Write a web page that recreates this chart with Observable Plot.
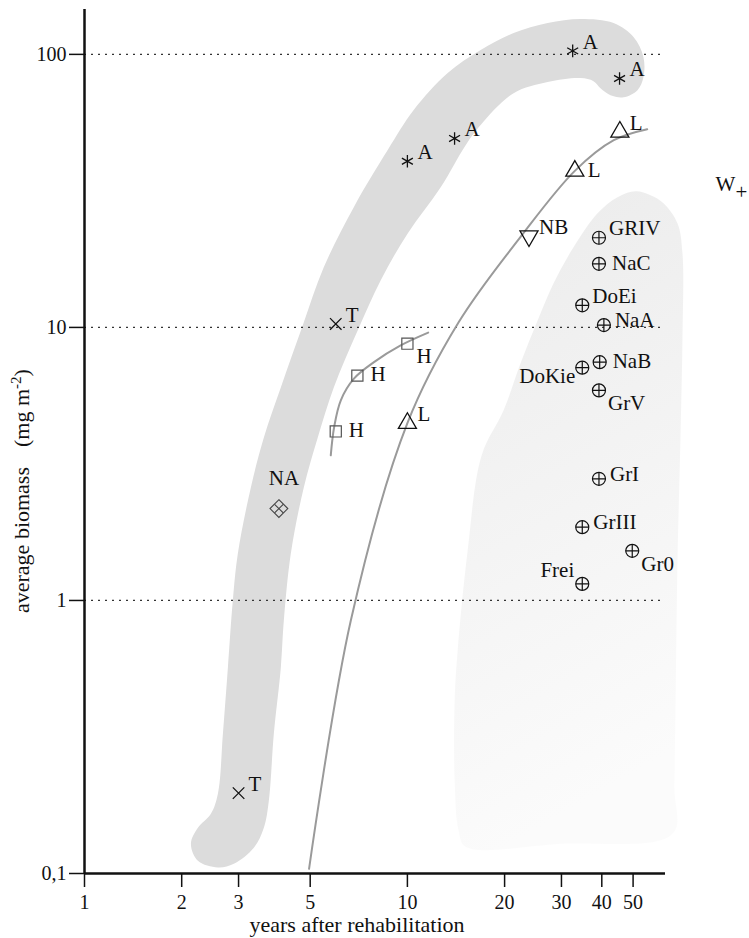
<!DOCTYPE html>
<html><head><meta charset="utf-8">
<script src="https://cdn.jsdelivr.net/npm/d3@7"></script>
<script src="https://cdn.jsdelivr.net/npm/@observablehq/plot@0.6"></script>
<style>
body{margin:0;background:#fff;}
#chart svg{overflow:visible;}
</style></head>
<body><div id="chart"></div>
<script>
// ---- axis ticks / titles ----
const xTicks = [1, 2, 3, 5, 10, 20, 30, 40, 50];
const yTicks = [0.1, 1, 10, 100];
const yTickLabels = ["0,1", "1", "10", "100"];
const gridY = [1, 10, 100];
const xTitle = "years after rehabilitation";
const yTitleMain = "average biomass";
const yTitleUnit = ["(mg m", "-2", ")"];

// ---- site groups: [label, years, biomass] ----
const sitesA = [["A", 10, 40.6], ["A", 14, 49.2], ["A", 32.5, 103], ["A", 45.4, 81.6]];
const sitesT = [["T", 3, 0.197], ["T", 6, 10.3]];
const sitesH = [["H", 6, 4.16], ["H", 7, 6.66], ["H", 10, 8.72]];
const sitesL = [["L", 10, 4.46], ["L", 33, 37.4], ["L", 45.5, 52]];
const sitesNB = [["NB", 23.8, 21.6]];
const sitesNA = [["NA", 4, 2.17]];
const sitesW = [["GRIV", 39.2, 21.3], ["NaC", 39.2, 17.1], ["DoEi", 34.8, 12.05], ["NaA", 40.6, 10.2],
  ["DoKie", 34.8, 7.12], ["NaB", 39.4, 7.46], ["GrV", 39.2, 5.88], ["GrI", 39.2, 2.79],
  ["GrIII", 34.8, 1.855], ["Gr0", 49.7, 1.52], ["Frei", 34.8, 1.15]];
const groupLabel = [["W", "+", 90, 33.5]];

// ---- fitted curves ----
const curveHx = [5.79, 5.93, 6.22, 6.83, 7.88, 9.53, 11.6];
const curveHy = [3.4, 4.31, 5.41, 6.49, 7.46, 8.59, 9.57];
const curveLx = [4.96, 6.68, 10, 14.41, 22.41, 33.0, 43.57, 55.3];
const curveLy = [0.104, 0.844, 4.46, 10.44, 21.45, 37.44, 48.5, 53.2];

// ---- envelope outlines (years, biomass) ----
const bandDarkX = [2.245, 2.136, 2.245, 2.463, 2.589, 2.683, 2.78, 2.88, 2.985, 3.275, 3.593, 4.055, 4.743, 5.508, 6.823, 8.69, 10.46, 13.33, 16.86, 21.33, 27.18, 34.38, 43.5, 50.15, 53.83, 53.83, 51.6, 46.7, 42.56, 39.63, 37.7, 34.38, 27.18, 21.33, 16.86, 15.15, 12.68, 10.02, 8.27, 7.02, 5.916, 5.278, 4.777, 4.355, 4.143, 4.055, 3.858, 3.723, 3.593, 3.345, 2.901, 2.589];
const bandDarkY = [0.1113, 0.1285, 0.147, 0.1656, 0.196, 0.325, 0.5675, 1.0, 1.486, 2.594, 3.954, 6.03, 10.18, 16.6, 27.56, 44.6, 62.5, 85.4, 103.7, 119.7, 130.2, 134.7, 130.2, 115.7, 97.7, 82.6, 73.97, 69.7, 70.9, 75.2, 79.8, 81.9, 79.2, 72.1, 55.1, 46.5, 32.6, 22.1, 14.9, 9.76, 6.03, 3.954, 2.594, 1.486, 0.844, 0.5675, 0.325, 0.1847, 0.147, 0.1242, 0.1085, 0.1052];
const bandLightX = [44.75, 50.86, 56.6, 62.1, 68.6, 71.1, 71.1, 70.1, 68.6, 67.1, 66.2, 29.8, 15.15, 14.41, 14.01, 14.01, 14.31, 15.37, 16.98, 19.86, 22.41, 25.31, 28.36, 32.7, 38.8];
const bandLightY = [29.99, 31.55, 30.5, 28.5, 24.07, 18.69, 9.2, 3.95, 1.369, 0.2132, 0.1398, 0.1285, 0.1253, 0.1434, 0.2187, 0.4296, 0.655, 1.524, 3.398, 4.968, 7.386, 10.6, 14.52, 19.66, 26.2];

// ---- build tables ----
const zipXY = (xs, ys) => xs.map((x, i) => ({x, y: ys[i]}));
const rows = (group, arr) => arr.map(([label, x, y], i) => ({group, label, x, y, i}));
const A = rows("A", sitesA), T = rows("T", sitesT), H = rows("H", sitesH), L = rows("L", sitesL),
  NB = rows("NB", sitesNB), NA = rows("NA", sitesNA), W = rows("W", sitesW);

// label placement (style, kept apart from the data)
const sides = {
  A: ["ne", "ne", "ne", "ne"], T: ["ne", "ne"], H: ["e", "e", "se"], L: ["ne", "e", "ne"],
  NB: ["ne"], NA: ["n"],
  W: ["ne", "e", "ne", "ne2", "sw", "e", "se", "ne2", "ne2", "se", "nw"]
};
const allLabels = [...A, ...T, ...H, ...L, ...NB, ...NA, ...W].map(d => ({...d, side: sides[d.group][d.i]}));
const sideStyle = {
  ne: {textAnchor: "start", dx: 10, dy: -9},
  ne2: {textAnchor: "start", dx: 11, dy: -5},
  e: {textAnchor: "start", dx: 13, dy: -1},
  se: {textAnchor: "start", dx: 9, dy: 13},
  sw: {textAnchor: "end", dx: -7, dy: 9},
  nw: {textAnchor: "end", dx: -8, dy: -14},
  n: {textAnchor: "middle", dx: 5, dy: -30}
};
const labelMarks = Object.entries(sideStyle).map(([side, st]) =>
  Plot.text(allLabels.filter(d => d.side === side), {x: "x", y: "y", text: "label", fontSize: 21, fill: "#111", ...st}));

const W2 = groupLabel.map(([main, sub, x, y]) => ({main, sub, x, y}));

const chart = Plot.plot({
  width: 749,
  height: 938,
  marginLeft: 84,
  marginRight: 84,
  marginTop: 9,
  marginBottom: 65,
  style: {fontFamily: "'Liberation Serif', 'Times New Roman', serif", fontSize: "20px", background: "#fff", color: "#111", overflow: "visible"},
  x: {type: "log", domain: [1, 63], label: null},
  y: {type: "log", domain: [0.1, 146], label: null},
  marks: [
    Plot.line(zipXY(bandDarkX, bandDarkY), {x: "x", y: "y", curve: "catmull-rom-closed", fill: "#dcdcdc", stroke: "none"}),
    Plot.line(zipXY(bandLightX, bandLightY), {x: "x", y: "y", curve: "catmull-rom-closed", fill: "url(#lightGrad)", stroke: "none"}),
    Plot.ruleY(gridY, {x1: 1, x2: 61.6, stroke: "#333", strokeWidth: 1.2, strokeDasharray: "2,5"}),
    Plot.line(zipXY(curveHx, curveHy), {x: "x", y: "y", curve: "catmull-rom", stroke: "#9a9a9a", strokeWidth: 2}),
    Plot.line(zipXY(curveLx, curveLy), {x: "x", y: "y", curve: "catmull-rom", stroke: "#9a9a9a", strokeWidth: 2}),
    // markers
    Plot.dot(A, {x: "x", y: "y", symbol: "asterisk", r: 6, stroke: "#111", strokeWidth: 1.3}),
    Plot.dot(T, {x: "x", y: "y", symbol: "times", r: 5.3, stroke: "#111", strokeWidth: 1.3}),
    Plot.dot(H, {x: "x", y: "y", symbol: "square", r: 6.3, stroke: "#555", fill: "none", strokeWidth: 1.2}),
    Plot.dot(L, {x: "x", y: "y", symbol: "triangle", r: 6.7, stroke: "#111", fill: "none", strokeWidth: 1.3}),
    Plot.dot(NB, {x: "x", y: "y", symbol: "triangle", rotate: 180, r: 6.7, stroke: "#111", fill: "none", strokeWidth: 1.3}),
    Plot.dot(NA, {x: "x", y: "y", symbol: "diamond2", r: 8, stroke: "#444", fill: "none", strokeWidth: 1.1}),
    Plot.dot(NA, {x: "x", y: "y", symbol: "times", r: 4, stroke: "#444", strokeWidth: 1.1}),
    Plot.dot(W, {x: "x", y: "y", symbol: "circle", r: 6.5, stroke: "#111", fill: "none", strokeWidth: 1.2}),
    Plot.dot(W, {x: "x", y: "y", symbol: "plus", r: 4.3, stroke: "#111", strokeWidth: 1.2}),
    ...labelMarks,
    Plot.text(W2, {x: "x", y: "y", text: "main", textAnchor: "start", fontSize: 21, fill: "#111"}),
    Plot.text(W2, {x: "x", y: "y", text: "sub", textAnchor: "start", dx: 20, dy: 8, fontSize: 21, fill: "#111"}),
    // axes
    Plot.ruleX([1], {stroke: "#111", strokeWidth: 2.5}),
    Plot.ruleY([0.1], {stroke: "#111", strokeWidth: 2.5}),
    Plot.axisX({ticks: xTicks, anchor: "bottom", tickSize: 14, tickPadding: 7, fontSize: 20, tickFormat: d => String(d), label: null, stroke: "#111", strokeWidth: 1.5, fill: "#111"}),
    Plot.axisY({ticks: yTicks, anchor: "left", tickSize: 15, tickPadding: 3, fontSize: 20, tickFormat: d => yTickLabels[yTicks.indexOf(d)], label: null, stroke: "#111", strokeWidth: 1.5, fill: "#111"})
  ]
});

const svg = d3.select(chart);
const defs = svg.insert("defs", ":first-child");
const grad = defs.append("linearGradient").attr("id", "lightGrad")
  .attr("x1", 0).attr("y1", 0).attr("x2", 0.2).attr("y2", 1);
grad.append("stop").attr("offset", "0%").attr("stop-color", "#ebebeb");
grad.append("stop").attr("offset", "100%").attr("stop-color", "#fbfbfb");

// axis titles
svg.append("text").attr("x", 357).attr("y", 932).attr("text-anchor", "middle")
  .attr("font-size", 22).attr("fill", "#111").text(xTitle);
const yt = svg.append("text").attr("transform", "translate(29,613) rotate(-90)")
  .attr("text-anchor", "start").attr("font-size", 22).attr("fill", "#111");
yt.append("tspan").text(yTitleMain);
yt.append("tspan").attr("dx", 20).text(yTitleUnit[0]);
yt.append("tspan").attr("dy", -8).attr("font-size", 15).text(yTitleUnit[1]);
yt.append("tspan").attr("dy", 8).text(yTitleUnit[2]);

document.getElementById("chart").appendChild(chart);
</script>
</body></html>
